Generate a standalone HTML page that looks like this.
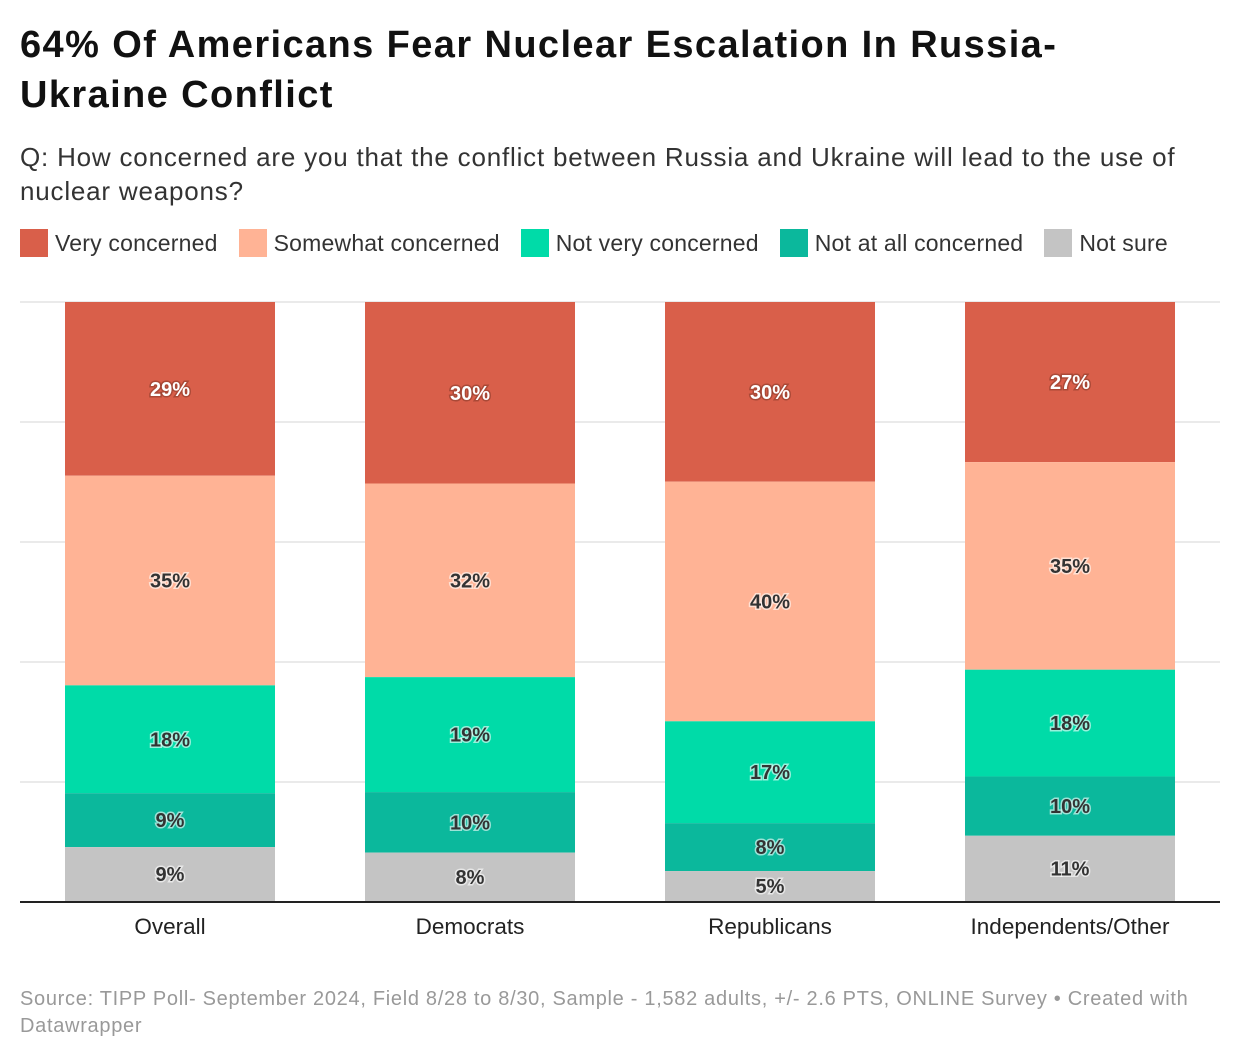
<!DOCTYPE html>
<html><head><meta charset="utf-8"><style>
body{margin:0;width:1240px;height:1060px;background:#fff;font-family:"Liberation Sans",Arial,sans-serif;overflow:hidden;position:relative}
h1{position:absolute;left:20px;top:20px;margin:0;font-size:38px;line-height:50px;font-weight:bold;color:#111;width:1100px;letter-spacing:1.4px}
.sub{position:absolute;left:20px;top:140px;font-size:26px;line-height:34px;color:#333;width:1190px;letter-spacing:0.8px}
.legend{position:absolute;left:20px;top:229px;display:flex;font-size:23px;color:#333;letter-spacing:0.2px}
.li{display:flex;align-items:center;margin-right:21px}
.sw{width:28px;height:28px;margin-right:7px}
.src{position:absolute;left:20px;top:986px;font-size:20px;line-height:27px;color:#999;width:1200px;letter-spacing:0.7px}
</style></head><body>
<h1>64% Of Americans Fear Nuclear Escalation In Russia-Ukraine Conflict</h1>
<div class="sub">Q: How concerned are you that the conflict between Russia and Ukraine will lead to the use of nuclear weapons?</div>
<div class="legend">
<div class="li"><div class="sw" style="background:#d95f4a"></div>Very concerned</div>
<div class="li"><div class="sw" style="background:#ffb395"></div>Somewhat concerned</div>
<div class="li"><div class="sw" style="background:#00dba8"></div>Not very concerned</div>
<div class="li"><div class="sw" style="background:#0bb89c"></div>Not at all concerned</div>
<div class="li"><div class="sw" style="background:#c4c4c4"></div>Not sure</div>
</div>
<svg id="chart" width="1240" height="1060" style="position:absolute;left:0;top:0"></svg>
<div class="src">Source: TIPP Poll- September 2024, Field 8/28 to 8/30, Sample - 1,582 adults, +/- 2.6 PTS, ONLINE Survey • Created with Datawrapper</div>
<script>
const categories=["Overall","Democrats","Republicans","Independents/Other"];
const veryConcerned=[29,30,30,27];
const somewhatConcerned=[35,32,40,35];
const notVeryConcerned=[18,19,17,18];
const notAtAllConcerned=[9,10,8,10];
const notSure=[9,8,5,11];
const series=[veryConcerned,somewhatConcerned,notVeryConcerned,notAtAllConcerned,notSure];
const colors=["#d95f4a","#ffb395","#00dba8","#0bb89c","#c4c4c4"];
const names=["very","somewhat","not-very","not-at-all","not-sure"];
const svg=document.getElementById('chart');
const NS="http://www.w3.org/2000/svg";
const top0=302,bot=901,left=20,right=1220;
const y=f=>top0+f*(bot-top0);
const slot=(right-left)/categories.length;
const xc=i=>left+slot*(i+0.5);
const bw=210;
for(let k=0;k<5;k++){const g=document.createElementNS(NS,'line');


const yy=top0+k*120;g.setAttribute('x1',left);g.setAttribute('x2',right);g.setAttribute('y1',yy);g.setAttribute('y2',yy);g.setAttribute('stroke','#e3e3e3');g.setAttribute('stroke-width','1.5');svg.appendChild(g);}
categories.forEach((c,i)=>{
 const total=series.reduce((s,a)=>s+a[i],0);
 let cum=0;
 series.forEach((arr,j)=>{
  const v=arr[i];const y1=y(cum/total),y2=y((cum+v)/total);cum+=v;
  const r=document.createElementNS(NS,'rect');
  
  
  r.setAttribute('x',xc(i)-bw/2);r.setAttribute('width',bw);r.setAttribute('y',y1);r.setAttribute('height',y2-y1);r.setAttribute('fill',colors[j]);svg.appendChild(r);
  const t=document.createElementNS(NS,'text');
  
  
  t.setAttribute('x',xc(i));t.setAttribute('y',(y1+y2)/2+7);t.setAttribute('text-anchor','middle');
  t.setAttribute('font-size','20');t.setAttribute('font-weight','bold');
  if(j==0){t.setAttribute('fill','#fff');t.setAttribute('stroke','#8a3a2c');}else{t.setAttribute('fill','#333');t.setAttribute('stroke','#fff');}
  t.setAttribute('stroke-width','3');t.setAttribute('paint-order','stroke');t.setAttribute('stroke-opacity','0.6');
  t.textContent=v+'%';svg.appendChild(t);
 });
 const l=document.createElementNS(NS,'text');
 
 
 l.setAttribute('x',xc(i));l.setAttribute('y',934);l.setAttribute('text-anchor','middle');l.setAttribute('font-size','22.5');l.setAttribute('fill','#222');l.textContent=c;svg.appendChild(l);
});
const b=document.createElementNS(NS,'line');


b.setAttribute('x1',left);b.setAttribute('x2',right);b.setAttribute('y1',bot+1);b.setAttribute('y2',bot+1);b.setAttribute('stroke','#222');b.setAttribute('stroke-width','2');svg.appendChild(b);
</script>
</body></html>
